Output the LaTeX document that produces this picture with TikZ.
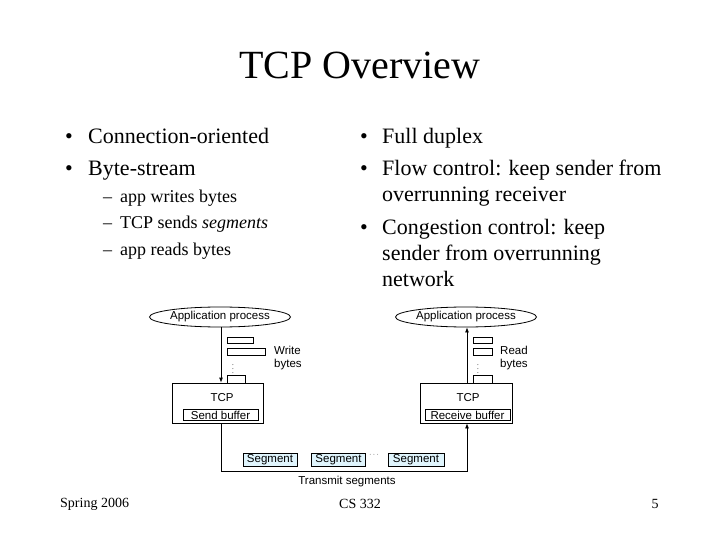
\documentclass[tikz,border=0pt]{standalone}
\usepackage{fontspec}
\setmainfont{Liberation Serif}
\newfontfamily\arial{Liberation Sans}
\usetikzlibrary{shapes.geometric,arrows.meta}
\begin{document}
\begin{tikzpicture}[x=1pt,y=-1pt,
  big/.style={anchor=base west,inner sep=0,font=\fontsize{22}{24}\selectfont},
  sub/.style={anchor=base west,inner sep=0,font=\fontsize{18}{20}\selectfont},
  dg/.style={inner sep=0,font=\arial\fontsize{11.5}{13}\selectfont},
  dots/.style={inner sep=0,font=\fontsize{7}{7}\selectfont},
  box/.style={draw,line width=0.8pt,inner sep=0},
  seg/.style={draw,line width=0.8pt,fill=cyan!12,inner sep=0,minimum width=54pt,minimum height=13pt,font=\arial\fontsize{11.5}{13}\selectfont},
  byte/.style={draw,line width=0.8pt,inner sep=0},
  conn/.style={line width=0.8pt},
  tip/.style={-{Latex[length=5pt,width=4pt]}}]
\useasboundingbox (0,0) rectangle (720,540);
\node[inner sep=0,font=\fontsize{40}{42}\selectfont] (title) at (360,65) {TCP Overview};
% left column
\node[big] (b1) at (65,144) {•}; \node[big] (l1) at (88,144) {Connection-oriented};
\node[big] (b2) at (65,176) {•}; \node[big] (l2) at (88,176) {Byte-stream};
\node[sub] (d1) at (103,203) {–}; \node[sub] (s1) at (120,203) {app writes bytes};
\node[sub] (d2) at (103,229) {–}; \node[sub] (s2) at (120,229) {TCP sends \textit{segments}};
\node[sub] (d3) at (103,255) {–}; \node[sub] (s3) at (120,255) {app reads bytes};
% right column
\node[big] (rb1) at (360,144) {•}; \node[big] (r1) at (382,144) {Full duplex};
\node[big] (rb2) at (360,176) {•}; \node[big] (r2) at (382,176) {Flow control: keep sender from};
\node[big] (r3) at (382,202) {overrunning receiver};
\node[big] (rb3) at (360,234) {•}; \node[big] (r4) at (382,234) {Congestion control: keep};
\node[big] (r5) at (382,260) {sender from overrunning};
\node[big] (r6) at (382,286) {network};
% diagram
\node[draw,ellipse,line width=0.8pt,minimum width=116pt,minimum height=20pt,inner sep=0,font=\arial\fontsize{11.5}{13}\selectfont] (appL) at (220,317) {Application process};
\node[draw,ellipse,line width=0.8pt,minimum width=116pt,minimum height=20pt,inner sep=0,font=\arial\fontsize{11.5}{13}\selectfont] (appR) at (466,317) {Application process};
\node[box,minimum width=91pt,minimum height=40pt] (tcpL) at (217.5,403) {};
\node[dg] (tcpLt) at (222,398) {TCP};
\node[box,minimum width=75pt,minimum height=11pt,font=\arial\fontsize{11.5}{13}\selectfont] (sbuf) at (220.5,415) {Send buffer};
\node[box,minimum width=92pt,minimum height=40pt] (tcpR) at (466,403) {};
\node[dg] (tcpRt) at (468,398) {TCP};
\node[box,minimum width=85pt,minimum height=11pt,font=\arial\fontsize{11.5}{13}\selectfont] (rbuf) at (467.5,415) {Receive buffer};
\coordinate (lx) at (221,403);
\coordinate (rx) at (467,403);
\draw[conn,tip] (appL.south -| lx) -- (tcpL.north -| lx);
\draw[conn,tip] (tcpR.north -| rx) -- (appR.south -| rx);
\coordinate (bl) at (221,471);
\coordinate (br) at (467,471);
\draw[conn,tip] (tcpL.south -| lx) -- (bl) -- (br) -- (tcpR.south -| rx);
% bytes
\node[byte,minimum width=26pt,minimum height=6pt] (w1) at (240,340) {};
\node[byte,minimum width=38pt,minimum height=7pt] (w2) at (246,351.5) {};
\node[dots] (wd) at (233,366) {$\vdots$};
\node[byte,minimum width=18pt,minimum height=8pt] (w3) at (236,379) {};
\node[dg,align=left,anchor=north west] (wb) at (274,346) {Write\\bytes};
\node[byte,minimum width=19pt,minimum height=6pt] (q1) at (482.5,340) {};
\node[byte,minimum width=19pt,minimum height=7pt] (q2) at (482.5,351.5) {};
\node[dots] (qd) at (478,366) {$\vdots$};
\node[byte,minimum width=19pt,minimum height=8pt] (q3) at (482.5,379) {};
\node[dg,align=left,anchor=north west] (qb) at (500,346) {Read\\bytes};
% segments
\node[seg] (sg1) at (270,459.5) {Segment};
\node[seg] (sg2) at (338.5,459.5) {Segment};
\node[dots] (sgd) at (374,455) {$\cdots$};
\node[seg,minimum width=56pt] (sg3) at (416,459.5) {Segment};
\node[dg] (trans) at (347,482) {Transmit segments};
% footer
\node[inner sep=0,anchor=west,font=\fontsize{14}{16}\selectfont] (f1) at (60,504) {Spring 2006};
\node[inner sep=0,font=\fontsize{14}{16}\selectfont] (f2) at (360,504) {CS 332};
\node[inner sep=0,font=\fontsize{14}{16}\selectfont] (f3) at (655,504) {5};
\end{tikzpicture}
\end{document}
